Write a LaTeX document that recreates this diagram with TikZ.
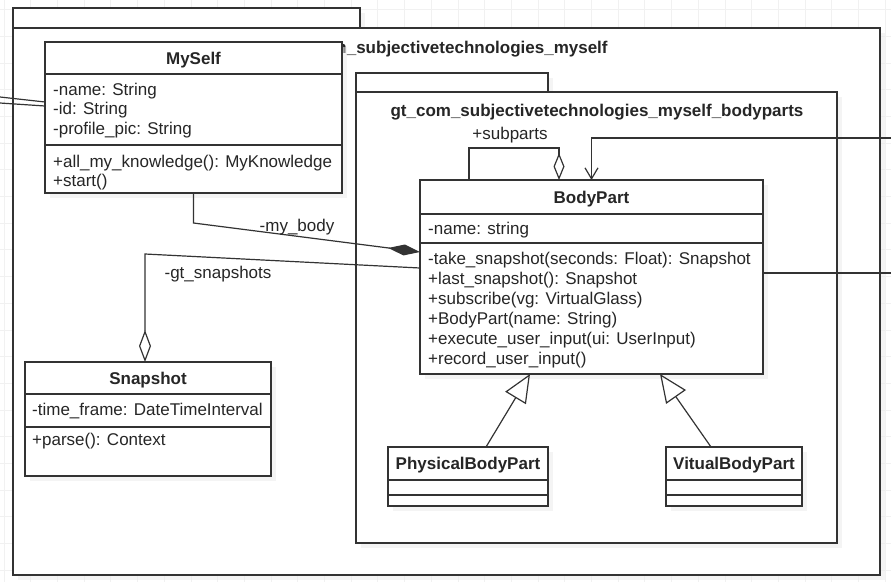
\documentclass[tikz,border=0pt]{standalone}
\usepackage{fontspec}
\setmainfont{Liberation Sans}
\usetikzlibrary{arrows.meta,calc,shadows}
\definecolor{lc}{HTML}{333333}
\definecolor{tc}{HTML}{262626}
\definecolor{gridc}{HTML}{F1F1F1}
\tikzset{
  every node/.style={font=\fontsize{17}{20}\selectfont},
  shd/.style={drop shadow={shadow xshift=5pt, shadow yshift=-5pt, fill=black!8}},
  pkg/.style={draw=lc, line width=1.8pt, fill=white, inner sep=0pt, outer sep=0pt, anchor=north west, shd},
  cls/.style={draw=lc, line width=1.2pt, fill=white, inner sep=0pt, outer sep=0pt, anchor=north west, shd},
  sep/.style={draw=lc, line width=1.2pt},
  txt/.style={anchor=base west, inner sep=0pt, text=tc},
  hdr/.style={anchor=base, inner sep=0pt, text=tc, font=\fontsize{17}{20}\selectfont\bfseries},
  lbl/.style={anchor=base, inner sep=0pt, text=tc},
  conn/.style={draw=lc, line width=1.2pt},
  gridline/.style={draw=gridc, line width=0.8pt},
}
\begin{document}
\begin{tikzpicture}[x=1pt,y=-1pt]
\useasboundingbox (0,0) rectangle (891,582);
\fill[white] (0,0) rectangle (891,582);
% background grid
\foreach \i in {0,...,33} \draw[gridline] (4+26.7*\i,0) -- ++(0,582);
\foreach \i in {0,...,21} \draw[gridline] (0,9.5+26.7*\i) -- ++(891,0);

% outer package
\node[pkg, minimum width=347pt, minimum height=20pt] (outertab) at (13,8) {};
\node[pkg, minimum width=867pt, minimum height=547pt] (outer) at (13,28) {};
\node[hdr] (outerlbl) at (447,53) {gt\_com\_subjectivetechnologies\_myself};

% inner package
\node[pkg, minimum width=192pt, minimum height=19pt] (innertab) at (356,73) {};
\node[pkg, minimum width=481pt, minimum height=451pt] (inner) at (356,92) {};
\node[hdr] (innerlbl) at (597,116) {gt\_com\_subjectivetechnologies\_myself\_bodyparts};

% MySelf
\node[cls, minimum width=297pt, minimum height=151pt] (myself) at (45,42) {};
\draw[sep] (45,74) -- (342,74);
\draw[sep] (45,145) -- (342,145);
\node[hdr] (myselfh) at (193.5,64) {MySelf};
\node[txt] (ms1) at (53,95) {-name: String};
\node[txt] (ms2) at (53,114) {-id: String};
\node[txt] (ms3) at (53,134) {-profile\_pic: String};
\node[txt] (ms4) at (53,167) {+all\_my\_knowledge(): MyKnowledge};
\node[txt] (ms5) at (53,186) {+start()};

% Snapshot
\node[cls, minimum width=246pt, minimum height=114pt] (snapshot) at (25,362) {};
\draw[sep] (25,394) -- (271,394);
\draw[sep] (25,427) -- (271,427);
\node[hdr] (snaph) at (148,384) {Snapshot};
\node[txt] (sn1) at (32,415) {-time\_frame: DateTimeInterval};
\node[txt] (sn2) at (32,445) {+parse(): Context};

% BodyPart
\node[cls, minimum width=343pt, minimum height=194pt] (bodypart) at (420,180) {};
\draw[sep] (420,214) -- (763,214);
\draw[sep] (420,243) -- (763,243);
\node[hdr] (bph) at (591.5,203) {BodyPart};
\node[txt] (bp0) at (428,234) {-name: string};
\node[txt] (bp1) at (428,264) {-take\_snapshot(seconds: Float): Snapshot};
\node[txt] (bp2) at (428,284) {+last\_snapshot(): Snapshot};
\node[txt] (bp3) at (428,304) {+subscribe(vg: VirtualGlass)};
\node[txt] (bp4) at (428,324) {+BodyPart(name: String)};
\node[txt] (bp5) at (428,344) {+execute\_user\_input(ui: UserInput)};
\node[txt] (bp6) at (428,364) {+record\_user\_input()};

% PhysicalBodyPart
\node[cls, minimum width=160pt, minimum height=59pt] (phys) at (388,447) {};
\draw[sep] (388,480) -- (548,480);
\draw[sep] (388,495) -- (548,495);
\node[hdr] (physh) at (468,469) {PhysicalBodyPart};

% VitualBodyPart
\node[cls, minimum width=136pt, minimum height=59pt] (virt) at (666,447) {};
\draw[sep] (666,480) -- (802,480);
\draw[sep] (666,495) -- (802,495);
\node[hdr] (virth) at (734,469) {VitualBodyPart};

% connectors
\coordinate (leftA) at (0,97);
\coordinate (leftB) at (0,103);
\draw[conn] (leftA) -- ([yshift=15.5pt]myself.west);
\draw[conn] (leftB) -- ([yshift=11.5pt]myself.west);

% composition MySelf -> BodyPart
\coordinate (mbbend) at (193.5,223);
\draw[conn, {Diamond[length=32pt,width=11pt]}-] ([yshift=25pt]bodypart.west) -- (mbbend) -- (myself.south);
\node[lbl] (mblbl) at (297,231) {-my\_body};

% aggregation Snapshot -> BodyPart
\coordinate (gsbend) at (145,254);
\draw[conn, {Diamond[open,length=32pt,width=12pt]}-] ([xshift=-3pt]snapshot.north) -- (gsbend) -- ([yshift=9pt]bodypart.west);
\node[lbl] (gslbl) at (218,278) {-gt\_snapshots};

% self aggregation
\coordinate (subbend) at (559,148);
\draw[conn, {Diamond[open,length=27pt,width=11pt]}-] ([xshift=-32.5pt]bodypart.north) -- (subbend) -| ([xshift=-122.5pt]bodypart.north);
\node[lbl] (sublbl) at (510,139) {+subparts};

% incoming from right
\coordinate (rin) at (891,138);
\draw[conn, -{Straight Barb[length=11pt,width=13pt]}] (rin) -| (bodypart.north);

% outgoing to right
\coordinate (rout) at (891,273);
\draw[conn] ([yshift=4pt]bodypart.east) -- (rout);

% generalizations
\draw[conn, -{Triangle[open,length=28pt,width=24pt]}] ([xshift=18pt]phys.north) -- ([xshift=-61.5pt]bodypart.south);
\draw[conn, -{Triangle[open,length=28pt,width=24pt]}] ([xshift=-23pt]virt.north) -- ([xshift=68.5pt]bodypart.south);
\end{tikzpicture}
\end{document}
